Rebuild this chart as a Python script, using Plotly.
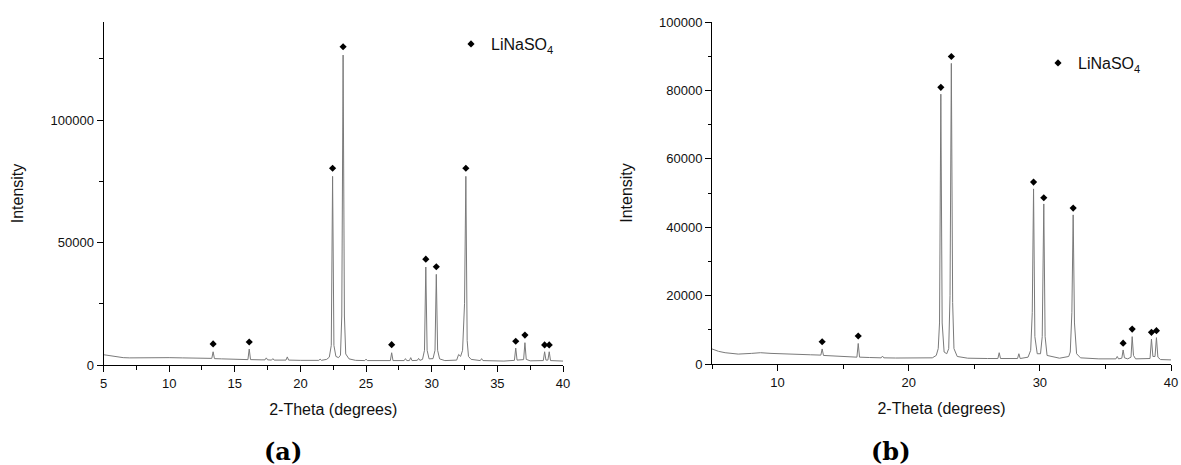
import plotly.graph_objects as go

# ---------------- data ----------------
# Panel (a) XRD trace
two_theta_a = [5.0, 5.5, 6.0, 6.5, 7.0, 8.0, 9.0, 10.0, 11.0, 12.0, 13.0,
               13.25, 13.35, 13.45, 14.0, 15.0, 16.0, 16.1, 16.2, 17.0,
               17.3, 17.4, 17.5, 17.8, 17.9, 18.0, 18.9, 19.0, 19.1, 20.0, 21.0,
               21.4, 21.5, 21.6, 22.0, 22.2, 22.35, 22.45, 22.55, 22.7, 22.9,
               23.05, 23.15, 23.25, 23.35, 23.45, 23.7, 24.2, 24.9, 25.0, 25.1,
               26.0, 26.85, 26.95, 27.05, 27.9, 28.0, 28.1, 28.3, 28.4, 28.5,
               28.9, 29.0, 29.1, 29.3, 29.45, 29.55, 29.65, 29.8, 30.1, 30.25,
               30.35, 30.45, 30.6, 31.0, 31.9, 32.05, 32.2, 32.35, 32.5, 32.6,
               32.7, 32.8, 33.0, 33.7, 33.8, 33.9, 35.5, 36.0, 36.3, 36.4, 36.5,
               37.0, 37.1, 37.2, 37.5, 38.5, 38.6, 38.7, 38.85, 38.95, 39.05, 40.0]
intensity_a = [4200, 3700, 3300, 3000, 2900, 3000, 3100, 3000, 2900, 2800, 2700,
               2700, 5400, 2600, 2500, 2300, 2200, 6500, 2200, 2100,
               2100, 2900, 2100, 2000, 2600, 2000, 2000, 3300, 2000, 1900, 1900,
               1900, 2400, 1900, 2300, 3200, 8000, 77000, 8000, 3500, 3000,
               4000, 20000, 126500, 20000, 4500, 2500, 1900, 1800, 2400, 1800,
               1800, 1800, 5000, 1800, 1800, 2600, 1800, 1800, 3000, 1800,
               1900, 2700, 1900, 2300, 6000, 40000, 6000, 2500, 2600, 6000,
               37000, 6000, 2500, 1800, 2000, 4300, 3500, 6000, 25000, 77000,
               10000, 3500, 2300, 1800, 2600, 1800, 1600, 1700, 1900, 6900, 2000,
               2200, 9100, 2300, 1700, 1800, 5400, 2000, 2000, 5400, 1800, 1600]

# Panel (a) LiNaSO4 markers
mark_theta_a = [13.35, 16.1, 22.45, 23.25, 26.95, 29.55, 30.35, 32.6, 36.4, 37.1, 38.6, 38.95]
mark_int_a = [8600, 9400, 80300, 129900, 8300, 43200, 40100, 80300, 9700, 12200, 8200, 8200]

# Panel (b) XRD trace
two_theta_b = [5.0, 5.5, 6.0, 6.5, 7.0, 8.0, 8.7, 9.5, 10.5, 11.5, 12.5,
               13.3, 13.4, 13.5, 14.5, 15.5, 16.05, 16.15, 16.25, 17.0,
               17.9, 18.0, 18.1, 19.0, 20.0, 21.0, 21.8, 22.1, 22.25, 22.35,
               22.45, 22.55, 22.7, 22.9, 23.05, 23.15, 23.25, 23.35, 23.45,
               23.7, 24.5, 26.0, 26.8, 26.9, 27.0, 28.3, 28.4, 28.5, 29.1,
               29.3, 29.42, 29.52, 29.62, 29.8, 30.05, 30.18, 30.3, 30.4, 30.55,
               31.5, 32.2, 32.32, 32.44, 32.54, 32.64, 32.8, 33.1, 34.5, 35.8,
               35.9, 36.0, 36.25, 36.35, 36.45, 36.7, 36.95, 37.04, 37.14, 37.3,
               38.4, 38.51, 38.62, 38.78, 38.89, 39.0, 39.2, 40.0]
intensity_b = [4400, 3700, 3300, 3000, 2900, 3100, 3300, 3100, 2900, 2800, 2700,
               2600, 4400, 2500, 2300, 2100, 2000, 6000, 2000, 1900,
               1800, 2300, 1800, 1750, 1700, 1700, 1800, 2500, 4500, 12000,
               78900, 12000, 3500, 3000, 4500, 20000, 87900, 18000, 4500,
               2200, 1700, 1600, 1600, 3300, 1600, 1600, 3000, 1600, 2000,
               4000, 15000, 51200, 8000, 3000, 3000, 8000, 46800, 8000, 2500,
               1700, 2200, 3500, 15000, 43600, 12000, 3000, 1800, 1500, 1500,
               2200, 1500, 1700, 4100, 1800, 1500, 2000, 8000, 2500, 1500,
               1600, 7300, 2200, 2200, 7700, 2000, 1300, 1200]

# Panel (b) LiNaSO4 markers
mark_theta_b = [13.4, 16.15, 22.45, 23.25, 29.52, 30.3, 32.54, 36.35, 37.04, 38.51, 38.89]
mark_int_b = [6500, 8200, 80900, 89900, 53200, 48600, 45600, 6100, 10200, 9260, 9750]

x_ticks_a = [5, 10, 15, 20, 25, 30, 35, 40]
y_ticks_a = [0, 50000, 100000]
x_ticks_b = [10, 20, 30, 40]
y_ticks_b = [0, 20000, 40000, 60000, 80000, 100000]

legend_label = "LiNaSO<sub>4</sub>"

# ---------------- figure ----------------
LINE = "#7a7a7a"
FONT = "Liberation Sans, Arial, sans-serif"

fig = go.Figure()
fig.add_trace(go.Scatter(x=two_theta_a, y=intensity_a, mode="lines",
                         line=dict(color=LINE, width=1), showlegend=False,
                         xaxis="x", yaxis="y"))
fig.add_trace(go.Scatter(x=mark_theta_a, y=mark_int_a, mode="markers",
                         marker=dict(symbol="diamond", size=5.5, color="black"),
                         name=legend_label, legend="legend",
                         xaxis="x", yaxis="y"))
fig.add_trace(go.Scatter(x=two_theta_b, y=intensity_b, mode="lines",
                         line=dict(color=LINE, width=1), showlegend=False,
                         xaxis="x2", yaxis="y2"))
fig.add_trace(go.Scatter(x=mark_theta_b, y=mark_int_b, mode="markers",
                         marker=dict(symbol="diamond", size=5.5, color="black"),
                         name=legend_label, legend="legend2",
                         xaxis="x2", yaxis="y2"))

W, H = 1181, 465


def ax_common():
    return dict(showline=True, linecolor="black", linewidth=1, mirror=False,
                ticks="outside", ticklen=6, tickwidth=1, tickcolor="black",
                showgrid=False, zeroline=False, automargin=False,
                tickformat="d",
                tickfont=dict(family=FONT, size=13, color="#111"),
                title_font=dict(family=FONT, size=16, color="#111"))


xa = ax_common()
xa.update(domain=[103.5 / W, 563 / W], range=[5, 40], tickvals=x_ticks_a,
          minor=dict(dtick=2.5, tick0=5, ticks="outside", ticklen=3.5, tickcolor="black"),
          anchor="y", title=dict(text="2-Theta (degrees)", standoff=14))
ya = ax_common()
ya.update(domain=[1 - 365 / H, 1 - 22 / H], range=[0, 140000], tickvals=y_ticks_a,
          minor=dict(dtick=25000, tick0=0, ticks="outside", ticklen=3.5, tickcolor="black"),
          anchor="x", title=dict(text="Intensity", standoff=22))
xb = ax_common()
xb.update(domain=[712 / W, 1171 / W], range=[5, 40], tickvals=x_ticks_b,
          minor=dict(dtick=5, tick0=5, ticks="outside", ticklen=3.5, tickcolor="black"),
          anchor="y2", title=dict(text="2-Theta (degrees)", standoff=14))
yb = ax_common()
yb.update(domain=[1 - 364 / H, 1 - 22 / H], range=[0, 100000], tickvals=y_ticks_b,
          minor=dict(dtick=10000, tick0=0, ticks="outside", ticklen=3.5, tickcolor="black"),
          anchor="x2", title=dict(text="Intensity", standoff=22))

leg_common = dict(bgcolor="rgba(0,0,0,0)", borderwidth=0,
                  font=dict(family=FONT, size=16, color="#111"),
                  xanchor="left", yanchor="middle")

fig.update_layout(
    width=W, height=H, autosize=False,
    margin=dict(l=0, r=0, t=0, b=0),
    paper_bgcolor="white", plot_bgcolor="white",
    xaxis=xa, yaxis=ya, xaxis2=xb, yaxis2=yb,
    legend=dict(x=451 / W, y=1 - 44 / H, **leg_common),
    legend2=dict(x=1038 / W, y=1 - 63 / H, **leg_common),
    annotations=[
        dict(text="<b>(a)</b>", x=283 / W, y=1 - 451 / H, xref="paper", yref="paper",
             xanchor="center", yanchor="middle",
             showarrow=False, font=dict(family="DejaVu Serif", size=24, color="black")),
        dict(text="<b>(b)</b>", x=891 / W, y=1 - 451 / H, xref="paper", yref="paper",
             xanchor="center", yanchor="middle",
             showarrow=False, font=dict(family="DejaVu Serif", size=24, color="black")),
    ],
)

fig.write_html("out.html")
